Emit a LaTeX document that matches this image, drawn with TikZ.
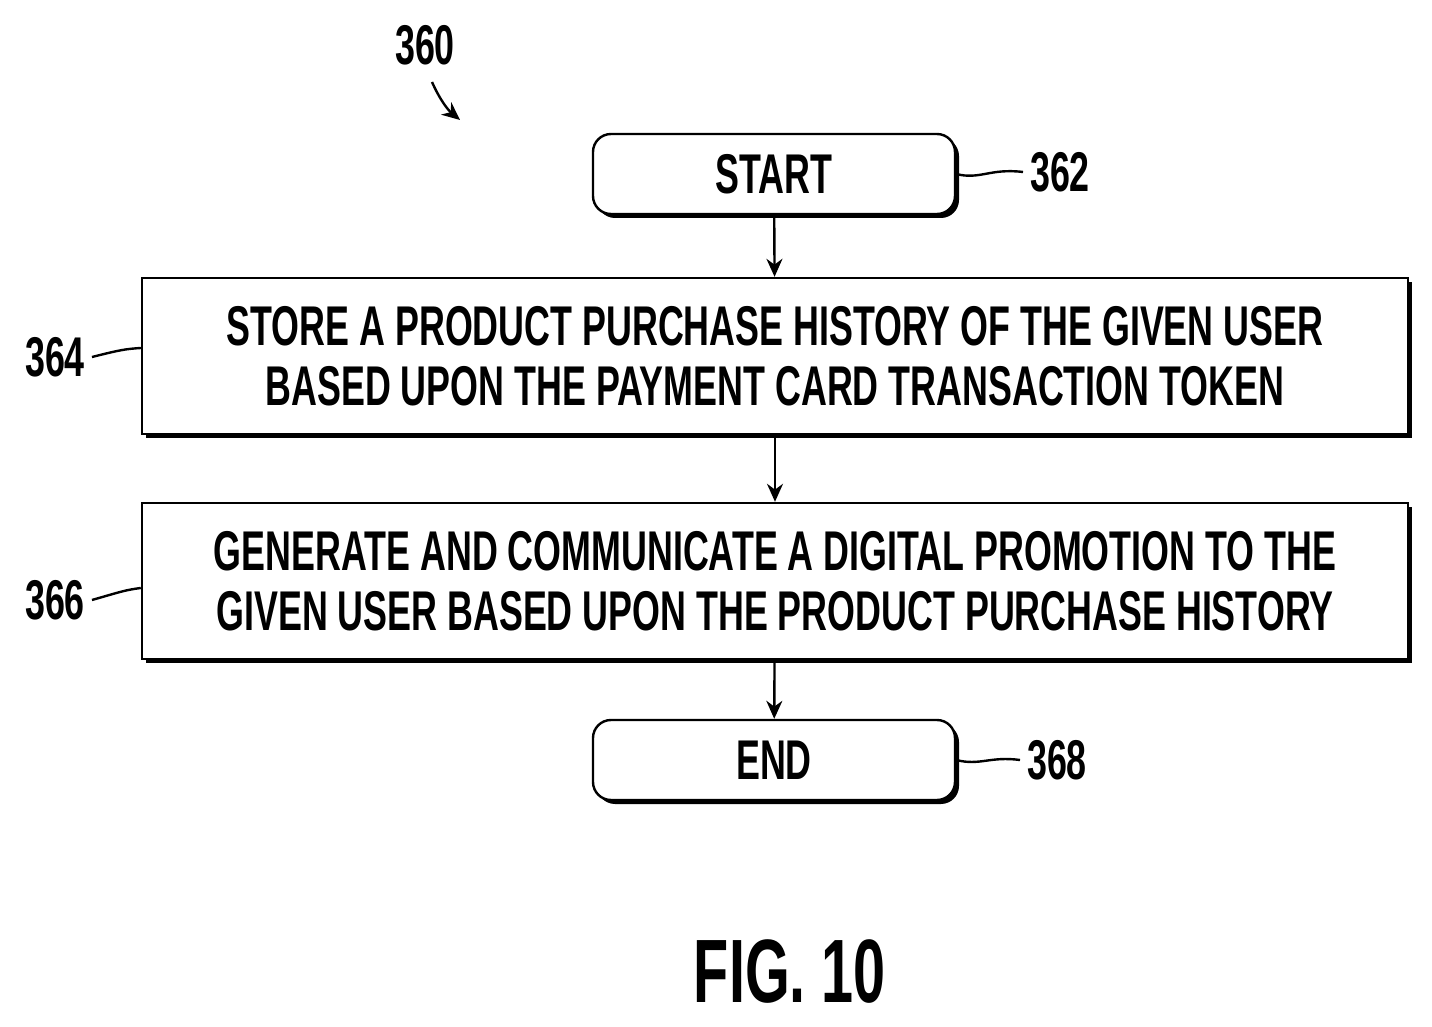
\documentclass[tikz,border=0pt]{standalone}
\usepackage{fontspec}
\setmainfont{Liberation Sans}[FakeStretch=0.64,BoldFont={* Bold}]
\usetikzlibrary{shadows,arrows.meta}
\tikzset{
  flowbox/.style={draw, line width=1.2pt, fill=white, minimum width=633pt, minimum height=78pt,
    align=center, font=\bfseries\fontsize{28}{30}\selectfont,
    drop shadow={shadow xshift=2pt, shadow yshift=-2pt, fill=black, opacity=1}},
  termbox/.style={flowbox, rounded corners=9pt, minimum width=181pt, minimum height=40pt},
  reflabel/.style={font=\bfseries\fontsize{28}{30}\selectfont},
  flowarrow/.style={-{Stealth[length=9pt,width=8pt]}, line width=1.2pt}
}
\begin{document}
\begin{tikzpicture}[x=0.5pt, y=-0.5pt]
\useasboundingbox (0,0) rectangle (1432,1027);
\node[termbox] (start) at (774,174) {START};
\node[flowbox] (store) at (775,356) {STORE A PRODUCT PURCHASE HISTORY OF THE GIVEN USER\\BASED UPON THE PAYMENT CARD TRANSACTION TOKEN};
\node[flowbox] (gen) at (775,581) {GENERATE AND COMMUNICATE A DIGITAL PROMOTION TO THE\\GIVEN USER BASED UPON THE PRODUCT PURCHASE HISTORY};
\node[termbox] (end) at (774,760) {END};
\draw[flowarrow] (start) -- (store);
\draw[flowarrow] (store) -- (gen);
\draw[flowarrow] (gen) -- (end);
%Labels
\node[reflabel] (l360) at (425,45) {360};
\node[reflabel] (l362) at (1060,172) {362};
\node[reflabel] (l364) at (55,357) {364};
\node[reflabel] (l366) at (55,600) {366};
\node[reflabel] (l368) at (1057,760) {368};
\node[font=\bfseries\fontsize{45}{50}\selectfont] (fig) at (790,972) {FIG. 10};
\coordinate (a360) at (460,120);
\draw[flowarrow] (432,82) .. controls (440,100) and (448,110) .. (a360);
\draw[line width=1.2pt] (start.east) .. controls (980,180) and (990,168) .. (l362.west);
\draw[line width=1.2pt] (l364.east) .. controls (120,350) and (125,349) .. (store.west |- 0,348);
\draw[line width=1.2pt] (l366.east) .. controls (120,592) and (125,590) .. (gen.west |- 0,588);
\draw[line width=1.2pt] (end.east) .. controls (980,766) and (990,756) .. (l368.west);
\end{tikzpicture}
\end{document}
